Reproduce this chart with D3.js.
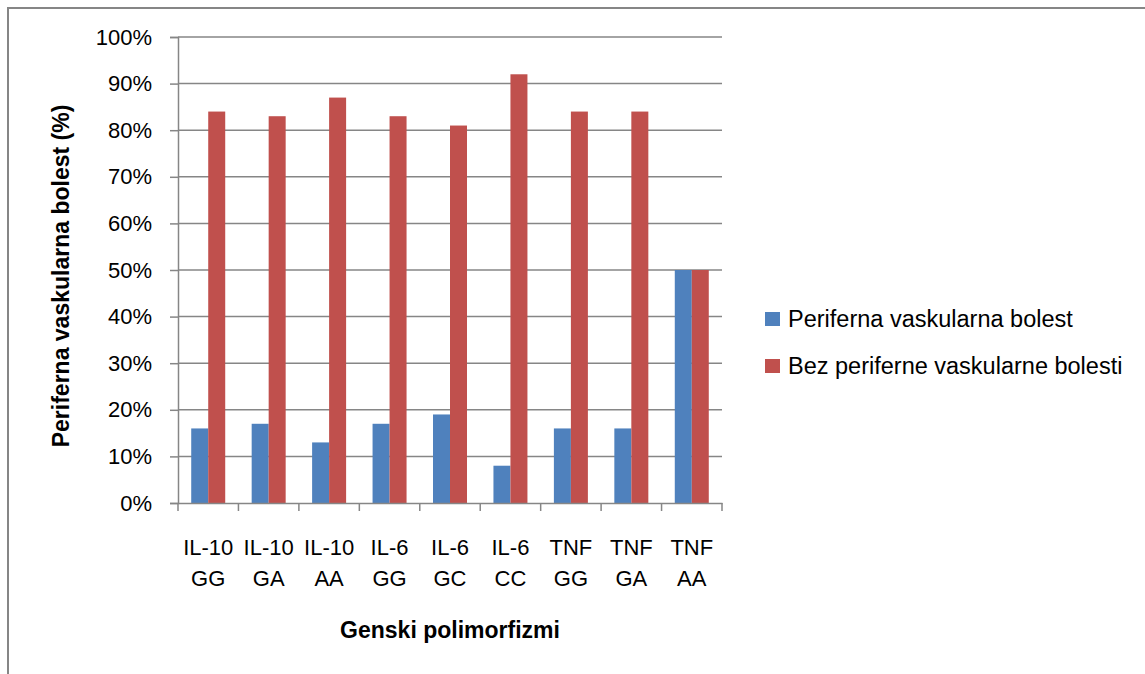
<!DOCTYPE html>
<html>
<head>
<meta charset="utf-8">
<script src="https://cdn.jsdelivr.net/npm/d3@7"></script>
<style>
body{margin:0;background:#fff}
svg{display:block;font-family:"Liberation Sans",Arial,sans-serif}
</style>
</head>
<body>
<div id="chart"></div>
<script>
"use strict"
var categories=['IL-10 GG','IL-10 GA','IL-10 AA','IL-6 GG','IL-6 GC','IL-6 CC','TNF GG','TNF GA','TNF AA']
var seriesNames=['Periferna vaskularna bolest','Bez periferne vaskularne bolesti']
var withPVB=[16,17,13,17,19,8,16,16,50]
var withoutPVB=[84,83,87,83,81,92,84,84,50]
var yTicks=[0,10,20,30,40,50,60,70,80,90,100]
var colors=['#4F81BD','#C0504D']
var gridColor='#868686'

var W=1145,H=674
var plotL=178,plotR=722,plotT=37,plotB=503

var svg=d3.select('#chart').append('svg').attr('width',W).attr('height',H)

// outer chart border
svg.append('rect').attr('x',8).attr('y',8).attr('width',W+10).attr('height',H+10)
  .attr('fill','none').attr('stroke',gridColor).attr('stroke-width',2)

var x0=d3.scaleBand().domain(categories).range([plotL,plotR]).paddingInner(0).paddingOuter(0)
var x1=d3.scaleBand().domain(seriesNames).range([0,x0.bandwidth()]).paddingInner(0).paddingOuter(0.778)
var y=d3.scaleLinear().domain([0,100]).range([plotB,plotT])

// gridlines
svg.append('g').selectAll('line').data(yTicks.filter(function(d){return d>0})).join('line')
  .attr('x1',plotL).attr('x2',plotR).attr('y1',function(d){return y(d)}).attr('y2',function(d){return y(d)})
  .attr('stroke',gridColor).attr('stroke-width',1.5)

// bars
var rows=categories.map(function(c,i){return {cat:c,vals:[withPVB[i],withoutPVB[i]]}})
var groups=svg.append('g').selectAll('g').data(rows).join('g')
  .attr('transform',function(d){return 'translate('+x0(d.cat)+',0)'})
groups.selectAll('rect').data(function(d){return d.vals.map(function(v,j){return {s:seriesNames[j],v:v,j:j}})}).join('rect')
  .attr('x',function(d){return x1(d.s)}).attr('width',x1.bandwidth())
  .attr('y',function(d){return y(d.v)}).attr('height',function(d){return plotB-y(d.v)})
  .attr('fill',function(d){return colors[d.j]})

// y axis
var yAxis=svg.append('g').attr('transform','translate('+plotL+',0)')
  .call(d3.axisLeft(y).tickValues(yTicks).tickSize(8).tickPadding(18).tickFormat(function(d){return d+'%'}))
yAxis.selectAll('path,line').attr('stroke',gridColor).attr('stroke-width',1.5)
yAxis.selectAll('text').attr('font-size',22).attr('fill','#000').attr('font-family','"Liberation Sans",Arial,sans-serif')

// x axis
var xAxis=svg.append('g').attr('transform','translate(0,'+plotB+')')
  .call(d3.axisBottom(x0).tickSize(0).tickFormat(''))
xAxis.select('path').attr('stroke',gridColor).attr('stroke-width',1.5)
var bounds=categories.map(function(c){return x0(c)}).concat([plotR])
xAxis.selectAll('.bound').data(bounds).join('line').attr('class','bound')
  .attr('x1',function(d){return d}).attr('x2',function(d){return d}).attr('y1',0).attr('y2',8)
  .attr('stroke',gridColor).attr('stroke-width',1.5)
var lbl=svg.append('g').selectAll('text').data(categories).join('text')
  .attr('text-anchor','middle').attr('font-size',22).attr('fill','#000')
lbl.each(function(c){
  var parts=c.split(' ')
  var t=d3.select(this)
  var cx=x0(c)+x0.bandwidth()/2
  t.append('tspan').attr('x',cx).attr('y',555).text(parts[0])
  t.append('tspan').attr('x',cx).attr('y',586).text(parts[1])
})

// axis titles
svg.append('text').attr('x',(plotL+plotR)/2).attr('y',638).attr('text-anchor','middle')
  .attr('font-size',23).attr('font-weight','bold').text('Genski polimorfizmi')
svg.append('text').attr('transform','translate(69,276) rotate(-90)').attr('text-anchor','middle')
  .attr('font-size',23).attr('font-weight','bold').text('Periferna vaskularna bolest (%)')

// legend
var leg=svg.append('g').selectAll('g').data(seriesNames).join('g')
  .attr('transform',function(d,i){return 'translate(765,'+(312+i*47)+')'})
leg.append('rect').attr('width',15).attr('height',14).attr('fill',function(d,i){return colors[i]})
leg.append('text').attr('x',23).attr('y',15).attr('font-size',23.5).attr('fill','#000').text(function(d){return d})
</script>
</body>
</html>
